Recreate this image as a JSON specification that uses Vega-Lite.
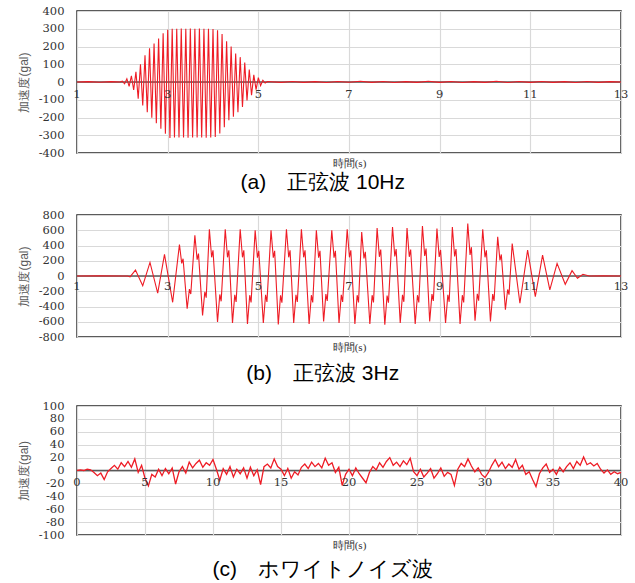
{
  "$schema": "https://vega.github.io/schema/vega-lite/v6.json",
  "padding": {"left": 16, "top": 4, "right": 3, "bottom": 2},
  "spacing": 14,
  "background": "white",
  "config": {
    "view": {"stroke": "#262626", "strokeWidth": 1.5},
    "axis": {
      "grid": true, "gridColor": "#d9d9d9", "gridWidth": 1.2,
      "domain": false, "ticks": false, "labelOverlap": false,
      "labelFont": "DejaVu Serif", "labelFontSize": 11.5, "labelColor": "#333333",
      "titleFontWeight": "normal"
    },
    "axisY": {"labelPadding": 13, "titleFont": "Liberation Sans", "titleFontSize": 12, "titleColor": "#595959", "titlePadding": 8},
    "axisX": {"labels": false, "titleFont": "Liberation Serif", "titleFontSize": 11, "titleColor": "#333333", "titlePadding": 4},
    "title": {"orient": "bottom", "font": "Liberation Sans", "fontSize": 21, "fontWeight": "normal", "color": "#000000", "frame": "bounds", "anchor": "middle", "offset": 4}
  },
  "datasets": {
    "a": [{"t":1,"v":0},{"t":1.25,"v":2},{"t":1.5,"v":-1},{"t":1.75,"v":2},{"t":1.95,"v":0},
      {"t":2,"v":5},{"t":2.05,"v":-10},{"t":2.1,"v":18},{"t":2.15,"v":-25},{"t":2.2,"v":35},{"t":2.25,"v":-45},{"t":2.3,"v":57},{"t":2.35,"v":-94},{"t":2.4,"v":100},{"t":2.45,"v":-132},{"t":2.5,"v":150},{"t":2.55,"v":-170},{"t":2.6,"v":190},{"t":2.65,"v":-202},{"t":2.7,"v":217},{"t":2.75,"v":-232},{"t":2.8,"v":245},{"t":2.85,"v":-264},{"t":2.9,"v":274},{"t":2.95,"v":-292},{"t":3,"v":295},{"t":3.05,"v":-315},{"t":3.1,"v":300},{"t":3.15,"v":-312},{"t":3.2,"v":300},{"t":3.25,"v":-313},{"t":3.3,"v":302},{"t":3.35,"v":-312},{"t":3.4,"v":300},{"t":3.45,"v":-314},{"t":3.5,"v":301},{"t":3.55,"v":-312},{"t":3.6,"v":300},{"t":3.65,"v":-313},{"t":3.7,"v":302},{"t":3.75,"v":-312},{"t":3.8,"v":300},{"t":3.85,"v":-314},{"t":3.9,"v":300},{"t":3.95,"v":-312},{"t":4,"v":298},{"t":4.05,"v":-310},{"t":4.1,"v":292},{"t":4.15,"v":-290},{"t":4.2,"v":270},{"t":4.25,"v":-255},{"t":4.3,"v":230},{"t":4.35,"v":-215},{"t":4.4,"v":200},{"t":4.45,"v":-195},{"t":4.5,"v":160},{"t":4.55,"v":-170},{"t":4.6,"v":140},{"t":4.65,"v":-140},{"t":4.7,"v":110},{"t":4.75,"v":-104},{"t":4.8,"v":70},{"t":4.85,"v":-75},{"t":4.9,"v":40},{"t":4.95,"v":-43},{"t":5,"v":25},{"t":5.05,"v":-20},{"t":5.1,"v":10},{"t":5.15,"v":-6},{"t":5.2,"v":3},
      {"t":5.5,"v":-2},{"t":5.75,"v":3},{"t":6,"v":-2},{"t":6.25,"v":2},{"t":6.5,"v":-3},{"t":6.75,"v":3},{"t":7,"v":-1},{"t":7.25,"v":4},{"t":7.5,"v":-2},{"t":7.75,"v":3},{"t":8,"v":-3},{"t":8.25,"v":2},{"t":8.5,"v":-2},{"t":8.75,"v":4},{"t":9,"v":-2},{"t":9.25,"v":3},{"t":9.5,"v":-3},{"t":9.75,"v":2},{"t":10,"v":-2},{"t":10.25,"v":4},{"t":10.5,"v":-3},{"t":10.75,"v":3},{"t":11,"v":-2},{"t":11.25,"v":3},{"t":11.5,"v":-2},{"t":11.75,"v":2},{"t":12,"v":-3},{"t":12.25,"v":3},{"t":12.5,"v":-2},{"t":12.75,"v":2},{"t":13,"v":0}],
    "b": [{"t":1,"v":0},{"t":1.5,"v":2},{"t":2,"v":0},{"t":2.12,"v":0},{"t":2.17,"v":-12},{"t":2.29,"v":78},{"t":2.45,"v":-126},{"t":2.61,"v":178},{"t":2.78,"v":-226},{"t":2.93,"v":283},{"t":3.11,"v":-345},{"t":3.26,"v":413},{"t":3.31,"v":165},{"t":3.34,"v":227},{"t":3.43,"v":-430},{"t":3.48,"v":-172},{"t":3.51,"v":-237},{"t":3.6,"v":535},{"t":3.65,"v":214},{"t":3.68,"v":294},{"t":3.77,"v":-517},{"t":3.82,"v":-207},{"t":3.85,"v":-284},{"t":3.92,"v":613},{"t":3.97,"v":245},{"t":4,"v":337},{"t":4.1,"v":-604},{"t":4.15,"v":-242},{"t":4.18,"v":-332},{"t":4.27,"v":613},{"t":4.32,"v":245},{"t":4.35,"v":337},{"t":4.43,"v":-617},{"t":4.48,"v":-247},{"t":4.51,"v":-339},{"t":4.6,"v":613},{"t":4.65,"v":245},{"t":4.68,"v":337},{"t":4.76,"v":-630},{"t":4.81,"v":-252},{"t":4.84,"v":-347},{"t":4.93,"v":600},{"t":4.98,"v":240},{"t":5.01,"v":330},{"t":5.11,"v":-617},{"t":5.16,"v":-247},{"t":5.19,"v":-339},{"t":5.28,"v":600},{"t":5.33,"v":240},{"t":5.36,"v":330},{"t":5.44,"v":-635},{"t":5.49,"v":-254},{"t":5.52,"v":-349},{"t":5.62,"v":613},{"t":5.67,"v":245},{"t":5.7,"v":337},{"t":5.78,"v":-617},{"t":5.83,"v":-247},{"t":5.86,"v":-339},{"t":5.95,"v":613},{"t":6,"v":245},{"t":6.03,"v":337},{"t":6.12,"v":-630},{"t":6.17,"v":-252},{"t":6.2,"v":-347},{"t":6.28,"v":600},{"t":6.33,"v":240},{"t":6.36,"v":330},{"t":6.44,"v":-596},{"t":6.49,"v":-238},{"t":6.52,"v":-328},{"t":6.62,"v":600},{"t":6.67,"v":240},{"t":6.7,"v":330},{"t":6.78,"v":-617},{"t":6.83,"v":-247},{"t":6.86,"v":-339},{"t":6.96,"v":613},{"t":7.01,"v":245},{"t":7.04,"v":337},{"t":7.13,"v":-630},{"t":7.18,"v":-252},{"t":7.21,"v":-347},{"t":7.28,"v":578},{"t":7.33,"v":231},{"t":7.36,"v":318},{"t":7.46,"v":-630},{"t":7.51,"v":-252},{"t":7.54,"v":-347},{"t":7.62,"v":630},{"t":7.67,"v":252},{"t":7.7,"v":347},{"t":7.79,"v":-639},{"t":7.84,"v":-256},{"t":7.87,"v":-351},{"t":7.96,"v":643},{"t":8.01,"v":257},{"t":8.04,"v":354},{"t":8.13,"v":-617},{"t":8.18,"v":-247},{"t":8.21,"v":-339},{"t":8.28,"v":630},{"t":8.33,"v":252},{"t":8.36,"v":347},{"t":8.46,"v":-630},{"t":8.51,"v":-252},{"t":8.54,"v":-347},{"t":8.62,"v":656},{"t":8.67,"v":262},{"t":8.7,"v":361},{"t":8.78,"v":-596},{"t":8.83,"v":-238},{"t":8.86,"v":-328},{"t":8.94,"v":622},{"t":8.99,"v":249},{"t":9.02,"v":342},{"t":9.13,"v":-617},{"t":9.18,"v":-247},{"t":9.21,"v":-339},{"t":9.28,"v":643},{"t":9.33,"v":257},{"t":9.36,"v":354},{"t":9.45,"v":-630},{"t":9.5,"v":-252},{"t":9.53,"v":-347},{"t":9.62,"v":687},{"t":9.67,"v":275},{"t":9.7,"v":378},{"t":9.78,"v":-587},{"t":9.83,"v":-235},{"t":9.86,"v":-323},{"t":9.95,"v":613},{"t":10,"v":245},{"t":10.03,"v":337},{"t":10.12,"v":-596},{"t":10.17,"v":-238},{"t":10.2,"v":-328},{"t":10.28,"v":513},{"t":10.33,"v":205},{"t":10.36,"v":282},{"t":10.45,"v":-443},{"t":10.5,"v":-177},{"t":10.53,"v":-244},{"t":10.6,"v":426},{"t":10.77,"v":-357},{"t":10.94,"v":339},{"t":11.11,"v":-270},{"t":11.27,"v":274},{"t":11.43,"v":-183},{"t":11.59,"v":165},{"t":11.77,"v":-109},{"t":11.92,"v":70},{"t":12.04,"v":-30},{"t":12.16,"v":22},{"t":12.3,"v":0},{"t":12.6,"v":2},{"t":13,"v":0}],
    "c": [{"t":0,"v":0},{"t":0.25,"v":1},{"t":0.5,"v":0},{"t":0.75,"v":2},{"t":1,"v":1},{"t":1.25,"v":-3},{"t":1.5,"v":-8},{"t":1.75,"v":-4},{"t":2,"v":-14},{"t":2.25,"v":-2},{"t":2.5,"v":3},{"t":2.75,"v":8},{"t":3,"v":2},{"t":3.25,"v":12},{"t":3.5,"v":6},{"t":3.75,"v":14},{"t":4,"v":5},{"t":4.25,"v":18},{"t":4.5,"v":-3},{"t":4.75,"v":8},{"t":5,"v":-12},{"t":5.25,"v":-24},{"t":5.5,"v":-6},{"t":5.75,"v":-10},{"t":6,"v":2},{"t":6.25,"v":-8},{"t":6.5,"v":3},{"t":6.75,"v":-5},{"t":7,"v":4},{"t":7.25,"v":-21},{"t":7.5,"v":-2},{"t":7.75,"v":6},{"t":8,"v":-4},{"t":8.25,"v":13},{"t":8.5,"v":4},{"t":8.75,"v":11},{"t":9,"v":16},{"t":9.25,"v":5},{"t":9.5,"v":12},{"t":9.75,"v":8},{"t":10,"v":17},{"t":10.25,"v":2},{"t":10.5,"v":-15},{"t":10.75,"v":3},{"t":11,"v":-6},{"t":11.25,"v":6},{"t":11.5,"v":-10},{"t":11.75,"v":2},{"t":12,"v":-5},{"t":12.25,"v":4},{"t":12.5,"v":-12},{"t":12.75,"v":5},{"t":13,"v":-8},{"t":13.25,"v":1},{"t":13.5,"v":-22},{"t":13.75,"v":6},{"t":14,"v":10},{"t":14.25,"v":4},{"t":14.5,"v":18},{"t":14.75,"v":6},{"t":15,"v":2},{"t":15.25,"v":-8},{"t":15.5,"v":3},{"t":15.75,"v":-12},{"t":16,"v":-2},{"t":16.25,"v":-7},{"t":16.5,"v":5},{"t":16.75,"v":10},{"t":17,"v":3},{"t":17.25,"v":13},{"t":17.5,"v":6},{"t":17.75,"v":11},{"t":18,"v":4},{"t":18.25,"v":19},{"t":18.5,"v":8},{"t":18.75,"v":12},{"t":19,"v":-3},{"t":19.25,"v":5},{"t":19.5,"v":-23},{"t":19.75,"v":-6},{"t":20,"v":2},{"t":20.25,"v":-8},{"t":20.5,"v":4},{"t":20.75,"v":-5},{"t":21,"v":-12},{"t":21.25,"v":-19},{"t":21.5,"v":-3},{"t":21.75,"v":6},{"t":22,"v":1},{"t":22.25,"v":12},{"t":22.5,"v":5},{"t":22.75,"v":14},{"t":23,"v":20},{"t":23.25,"v":8},{"t":23.5,"v":13},{"t":23.75,"v":6},{"t":24,"v":15},{"t":24.25,"v":9},{"t":24.5,"v":19},{"t":24.75,"v":-2},{"t":25,"v":-8},{"t":25.25,"v":2},{"t":25.5,"v":-10},{"t":25.75,"v":-4},{"t":26,"v":3},{"t":26.25,"v":-12},{"t":26.5,"v":-5},{"t":26.75,"v":4},{"t":27,"v":-9},{"t":27.25,"v":-3},{"t":27.5,"v":-6},{"t":27.75,"v":-23},{"t":28,"v":2},{"t":28.25,"v":11},{"t":28.5,"v":6},{"t":28.75,"v":18},{"t":29,"v":7},{"t":29.25,"v":-2},{"t":29.5,"v":4},{"t":29.75,"v":-6},{"t":30,"v":-11},{"t":30.25,"v":-3},{"t":30.5,"v":8},{"t":30.75,"v":17},{"t":31,"v":6},{"t":31.25,"v":13},{"t":31.5,"v":3},{"t":31.75,"v":10},{"t":32,"v":5},{"t":32.25,"v":17},{"t":32.5,"v":2},{"t":32.75,"v":8},{"t":33,"v":-6},{"t":33.25,"v":-2},{"t":33.5,"v":-14},{"t":33.75,"v":-25},{"t":34,"v":-5},{"t":34.25,"v":4},{"t":34.5,"v":10},{"t":34.75,"v":-3},{"t":35,"v":2},{"t":35.25,"v":-6},{"t":35.5,"v":5},{"t":35.75,"v":-2},{"t":36,"v":6},{"t":36.25,"v":12},{"t":36.5,"v":3},{"t":36.75,"v":14},{"t":37,"v":8},{"t":37.25,"v":21},{"t":37.5,"v":9},{"t":37.75,"v":12},{"t":38,"v":7},{"t":38.25,"v":11},{"t":38.5,"v":2},{"t":38.75,"v":-4},{"t":39,"v":1},{"t":39.25,"v":-6},{"t":39.5,"v":-2},{"t":39.75,"v":-5},{"t":40,"v":-3}],
    "ta": [{"t":1},{"t":3},{"t":5},{"t":7},{"t":9},{"t":11},{"t":13}],
    "tc": [{"t":0},{"t":5},{"t":10},{"t":15},{"t":20},{"t":25},{"t":30},{"t":35},{"t":40}],
    "z": [{"v":0}]
  },
  "vconcat": [
    {
      "width": 544, "height": 142,
      "title": {"text": "(a)　正弦波 10Hz", "offset": 4},
      "layer": [
        {"data": {"name": "z"}, "mark": {"type": "rule", "color": "#595959", "strokeWidth": 1.5},
         "encoding": {"y": {"field": "v", "type": "quantitative", "scale": {"domain": [-400, 400]}, "axis": {"values": [-400,-300,-200,-100,0,100,200,300,400], "title": "加速度(gal)", "labelExpr": "'' + datum.value"}}}},
        {"data": {"name": "a"}, "mark": {"type": "line", "color": "#ee1c25", "strokeWidth": 1.1},
         "encoding": {
           "x": {"field": "t", "type": "quantitative", "scale": {"domain": [1, 13], "nice": false}, "axis": {"values": [1,3,5,7,9,11,13], "title": "時間(s)"}},
           "y": {"field": "v", "type": "quantitative", "scale": {"domain": [-400, 400]}, "axis": {"values": [-400,-300,-200,-100,0,100,200,300,400], "title": "加速度(gal)", "labelExpr": "'' + datum.value"}}
         }},
        {"data": {"name": "ta"}, "mark": {"type": "text", "dy": 13, "font": "DejaVu Serif", "fontSize": 11.5, "color": "#333333"},
         "encoding": {
           "x": {"field": "t", "type": "quantitative", "scale": {"domain": [1, 13], "nice": false}, "axis": {"values": [1,3,5,7,9,11,13], "title": "時間(s)"}},
           "y": {"datum": 0, "type": "quantitative", "scale": {"domain": [-400, 400]}, "axis": {"values": [-400,-300,-200,-100,0,100,200,300,400], "title": "加速度(gal)", "labelExpr": "'' + datum.value"}},
           "text": {"field": "t", "type": "quantitative"}}}
      ]
    },
    {
      "width": 544, "height": 122,
      "title": {"text": "(b)　正弦波 3Hz", "offset": 11},
      "layer": [
        {"data": {"name": "z"}, "mark": {"type": "rule", "color": "#595959", "strokeWidth": 1.5},
         "encoding": {"y": {"field": "v", "type": "quantitative", "scale": {"domain": [-800, 800]}, "axis": {"values": [-800,-600,-400,-200,0,200,400,600,800], "title": "加速度(gal)", "labelExpr": "'' + datum.value"}}}},
        {"data": {"name": "b"}, "mark": {"type": "line", "color": "#ee1c25", "strokeWidth": 1.1},
         "encoding": {
           "x": {"field": "t", "type": "quantitative", "scale": {"domain": [1, 13], "nice": false}, "axis": {"values": [1,3,5,7,9,11,13], "title": "時間(s)"}},
           "y": {"field": "v", "type": "quantitative", "scale": {"domain": [-800, 800]}, "axis": {"values": [-800,-600,-400,-200,0,200,400,600,800], "title": "加速度(gal)", "labelExpr": "'' + datum.value"}}
         }},
        {"data": {"name": "ta"}, "mark": {"type": "text", "dy": 11, "font": "DejaVu Serif", "fontSize": 11.5, "color": "#333333"},
         "encoding": {
           "x": {"field": "t", "type": "quantitative", "scale": {"domain": [1, 13], "nice": false}, "axis": {"values": [1,3,5,7,9,11,13], "title": "時間(s)"}},
           "y": {"datum": 0, "type": "quantitative", "scale": {"domain": [-800, 800]}, "axis": {"values": [-800,-600,-400,-200,0,200,400,600,800], "title": "加速度(gal)", "labelExpr": "'' + datum.value"}},
           "text": {"field": "t", "type": "quantitative"}}}
      ]
    },
    {
      "width": 544, "height": 129,
      "title": {"text": "(c)　ホワイトノイズ波", "offset": 9},
      "layer": [
        {"data": {"name": "z"}, "mark": {"type": "rule", "color": "#595959", "strokeWidth": 1.5},
         "encoding": {"y": {"field": "v", "type": "quantitative", "scale": {"domain": [-100, 100]}, "axis": {"values": [-100,-80,-60,-40,-20,0,20,40,60,80,100], "title": "加速度(gal)", "labelExpr": "'' + datum.value"}}}},
        {"data": {"name": "c"}, "mark": {"type": "line", "color": "#ee1c25", "strokeWidth": 1.3},
         "encoding": {
           "x": {"field": "t", "type": "quantitative", "scale": {"domain": [0, 40], "nice": false}, "axis": {"values": [0,5,10,15,20,25,30,35,40], "title": "時間(s)"}},
           "y": {"field": "v", "type": "quantitative", "scale": {"domain": [-100, 100]}, "axis": {"values": [-100,-80,-60,-40,-20,0,20,40,60,80,100], "title": "加速度(gal)", "labelExpr": "'' + datum.value"}}
         }},
        {"data": {"name": "tc"}, "mark": {"type": "text", "dy": 12, "font": "DejaVu Serif", "fontSize": 11.5, "color": "#333333"},
         "encoding": {
           "x": {"field": "t", "type": "quantitative", "scale": {"domain": [0, 40], "nice": false}, "axis": {"values": [0,5,10,15,20,25,30,35,40], "title": "時間(s)"}},
           "y": {"datum": 0, "type": "quantitative", "scale": {"domain": [-100, 100]}, "axis": {"values": [-100,-80,-60,-40,-20,0,20,40,60,80,100], "title": "加速度(gal)", "labelExpr": "'' + datum.value"}},
           "text": {"field": "t", "type": "quantitative"}}}
      ]
    }
  ]
}
